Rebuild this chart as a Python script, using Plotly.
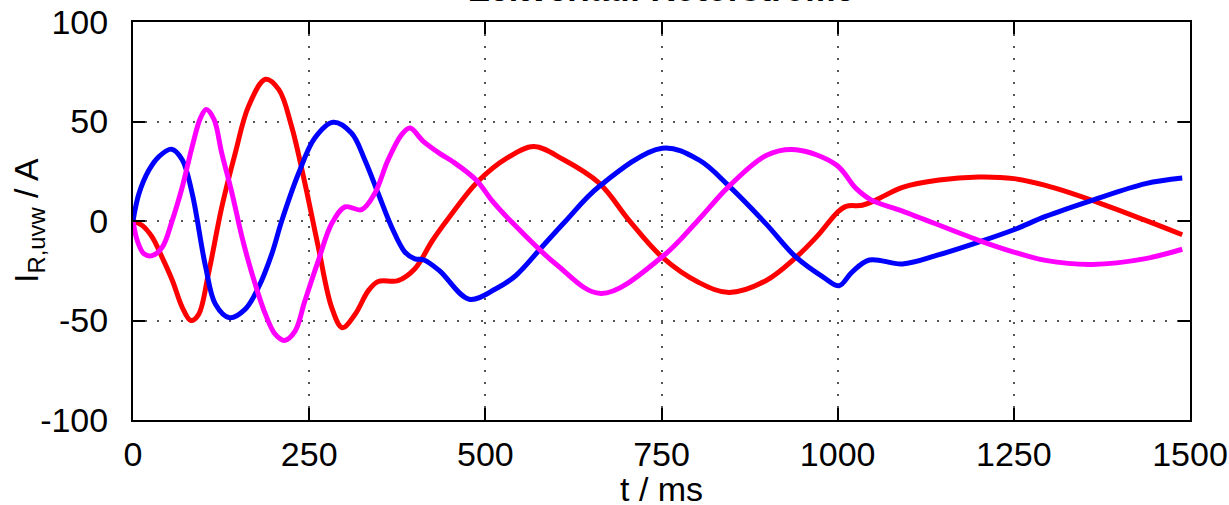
import plotly.graph_objects as go

# Rotor phase currents, time in ms, current in A
t_u = [0, 13, 27, 41, 56, 70, 82, 93, 107, 126, 145, 164, 188, 207, 225, 244, 263,
       282, 297, 315, 334, 348, 376, 400, 425, 449, 489, 530, 569, 610, 662, 704,
       751, 803, 846, 898, 941, 970, 1000, 1012, 1035, 1054, 1092, 1144, 1200, 1250,
       1295, 1361, 1437, 1489]
i_u = [0, -2.2, -8, -18, -30, -43.5, -50, -47, -26.6, 7, 34, 57.7, 71.2, 66, 47.6,
       18.9, -13.2, -43.5, -53.6, -47, -35, -30.4, -30, -24, -9.8, 2, 19.7, 31.5,
       37.4, 31, 18.9, 0.3, -18.2, -30.9, -35.9, -30, -18.2, -8, 4.5, 7.4, 7.9, 10.5,
       16.9, 20.6, 22.1, 21.3, 17.9, 10.4, 0.3, -6.9]

t_v = [0, 8.5, 22.6, 36.8, 54.7, 70, 84, 103, 117, 137, 159, 178, 197, 211, 235, 258,
       284, 310, 329, 348, 367, 386, 400, 413, 435, 477, 515, 543, 580, 614, 661, 751,
       803, 846, 898, 941, 980, 1002, 1020, 1045, 1092, 1144, 1200, 1250, 1295, 1361,
       1437, 1489]
i_v = [0, 13.8, 25.6, 32.4, 36.1, 30.7, 13.8, -23, -41.8, -48.6, -44.4, -33.4, -16.5,
       0, 24, 41.7, 49.6, 44.2, 30.7, 13.8, -3, -15.7, -19, -19.6, -25, -39.3, -34,
       -27.5, -13.2, 0, 17.2, 36.6, 30.7, 17.5, -1.3, -18.2, -28.3, -32.5, -25.8,
       -19.6, -21.6, -16.9, -10.6, -4.4, 2.3, 10.4, 18.8, 21.6]

t_w = [0, 6, 15.6, 27, 41.5, 55.7, 70, 84, 95.8, 104, 115, 126, 140.6, 154.7, 169, 188,
       202, 215, 230, 244, 263, 282, 301, 324.5, 343, 362, 381, 393, 412, 435, 454,
       487, 510, 536, 600, 664, 751, 801, 846, 900, 941, 998, 1026, 1048, 1092, 1200,
       1250, 1295, 1361, 1437, 1489]
i_w = [0, -9.8, -16.5, -17.4, -13.2, 0.3, 17.2, 37.4, 51.8, 56, 51, 34, 13.8, -8.1,
       -26.6, -46.9, -57, -60, -55.3, -40, -19.9, -1.3, 7.1, 5.7, 13.8, 30.7, 43.3,
       46.7, 40, 34, 29.8, 20.6, 10, 0, -21.6, -36.4, -18, 0, 17.5, 33.2, 35.8, 28.2,
       16.4, 10.5, 5, -9.7, -15.6, -19.8, -21.8, -18.9, -14.2]

x_ticks = [0, 250, 500, 750, 1000, 1250, 1500]
y_ticks = [-100, -50, 0, 50, 100]

FONT = "Liberation Sans, Arial, sans-serif"
FS = 34

fig = go.Figure()
for t, i, color in [(t_u, i_u, "#ff0000"), (t_v, i_v, "#0000ff"), (t_w, i_w, "#ff00ff")]:
    fig.add_trace(go.Scatter(x=t, y=i, mode="lines",
                             line=dict(color=color, width=5, shape="spline", smoothing=1.0),
                             showlegend=False, hoverinfo="skip"))

axis_common = dict(
    showline=True, linecolor="black", linewidth=2, mirror="ticks",
    ticks="inside", ticklen=12, tickwidth=1.5, tickcolor="black",
    showgrid=True, gridcolor="#555555", gridwidth=1.5, griddash="2px,10px",
    zeroline=False, ticklabeloverflow="allow", automargin=False,
    tickfont=dict(family=FONT, size=FS, color="black"),
)

fig.update_xaxes(range=[0, 1500], tickvals=x_ticks, ticktext=[str(v) for v in x_ticks],
                 ticklabelstandoff=3, **axis_common)
fig.update_yaxes(range=[-100, 100], tickvals=y_ticks, ticktext=[str(v) for v in y_ticks],
                 ticklabelstandoff=16, **axis_common)

fig.add_annotation(text="<b>Zeitverlauf Rotorströme</b>", xref="paper", yref="paper",
                   x=0.5, xanchor="center", y=1, yshift=12, yanchor="bottom",
                   showarrow=False, font=dict(family=FONT, size=FS, color="black"))
fig.add_annotation(text="t / ms", xref="paper", yref="paper", x=0.5, xanchor="center",
                   y=0, yshift=-69, yanchor="middle", showarrow=False,
                   font=dict(family=FONT, size=FS, color="black"))
fig.add_annotation(text="I<sub>R,uvw</sub> / A", xref="paper", yref="paper", x=0,
                   xanchor="center", xshift=-105, y=0.5, yanchor="middle", textangle=-90,
                   showarrow=False, font=dict(family=FONT, size=FS, color="black"))

fig.update_layout(width=1229, height=505, plot_bgcolor="white", paper_bgcolor="white",
                  margin=dict(l=133, r=39, t=22, b=85, autoexpand=False))

fig.write_html("out.html")
